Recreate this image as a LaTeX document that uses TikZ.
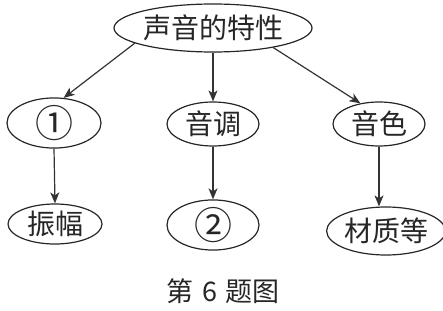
\documentclass[tikz,border=0pt]{standalone}
\usepackage{fontspec}
\newfontfamily\cjk{Noto Sans CJK SC}
\usetikzlibrary{shapes.geometric,arrows.meta}
\tikzset{
  oval/.style={draw=black!85, line width=1.2pt, ellipse, inner sep=0pt,
    font=\cjk\fontsize{28}{30}\selectfont, text=black!85},
  circnum/.style={font=\cjk\fontsize{38}{40}\selectfont},
  link/.style={draw=black!80, line width=1.2pt,
    -{Stealth[length=11pt,width=9pt,inset=3pt]}}
}
\begin{document}
\begin{tikzpicture}[x=1pt,y=-1pt]
\useasboundingbox (0,0) rectangle (443,310);
\node[oval, minimum width=178pt, minimum height=48pt] (top) at (213,28) {声音的特性};
\node[oval, circnum, minimum width=94pt, minimum height=42pt] (n1) at (54,123) {①};
\node[oval, minimum width=92pt, minimum height=44pt] (n2) at (213,124) {音调};
\node[oval, minimum width=92pt, minimum height=44pt] (n3) at (379,124) {音色};
\node[oval, minimum width=94pt, minimum height=40pt] (b1) at (55,224) {振幅};
\node[oval, circnum, minimum width=92pt, minimum height=42pt] (b2) at (213,225) {②};
\node[oval, minimum width=104pt, minimum height=48pt] (b3) at (386,231) {材质等};
\node[font=\cjk\fontsize{27}{29}\selectfont, text=black!85] (cap) at (223,291) {第\hspace{9pt}6\hspace{9pt}题图};
\draw[link] (top.191) -- (n1.69);
\draw[link] (top.south) -- (n2.north);
\draw[link] (top.-18) -- (n3.132);
\draw[link] (n1.south) -- (b1.north);
\draw[link] (n2.south) -- (b2.north);
\draw[link] (n3.south) -- (n3.south |- b3.north);
\end{tikzpicture}
\end{document}
